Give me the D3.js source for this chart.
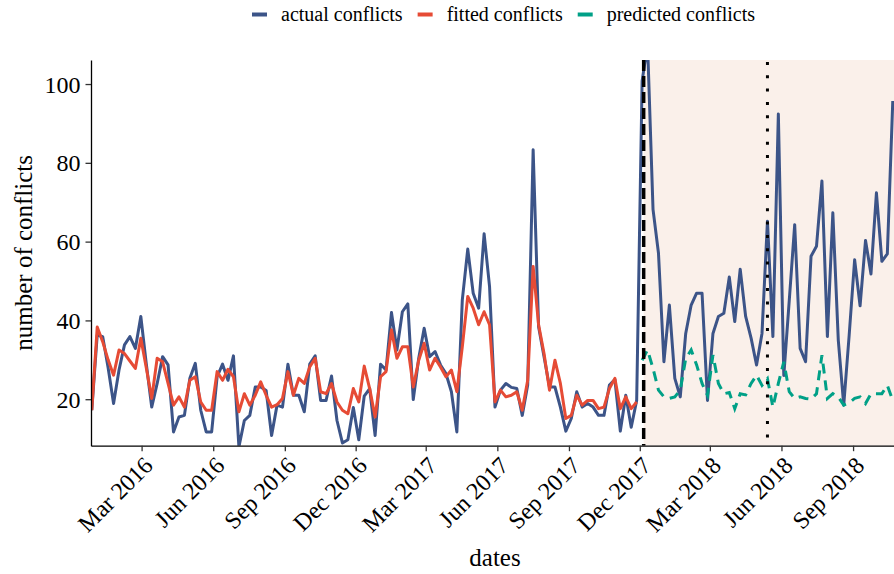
<!DOCTYPE html>
<html>
<head>
<meta charset="utf-8">
<script src="https://cdn.jsdelivr.net/npm/d3@7"></script>
<style>
  html, body { margin: 0; padding: 0; background: #ffffff; }
  svg { display: block; font-family: "Liberation Serif", "Times New Roman", serif; }
</style>
</head>
<body>
<svg id="chart" width="894" height="574"></svg>
<script>
// Weekly conflict counts, one value per week starting at firstWeek.
const firstWeek = "2015-12-28";

const actualConflicts = [
  17.2, 36.3, 35.9, 28.0, 18.9, 27.4, 33.8, 35.9, 32.9, 41.0,
  29.0, 18.0, 24.0, 30.8, 28.7, 11.7, 15.5, 15.9, 25.3, 29.1,
  17.2, 11.7, 11.7, 25.7, 28.9, 24.8, 31.0, 7.9, 14.6, 15.9,
  23.1, 23.1, 22.2, 10.8, 18.5, 18.0, 28.9, 21.0, 21.0, 16.8,
  28.9, 31.0, 19.7, 19.7, 25.9, 14.6, 8.9, 9.7, 17.9, 9.7,
  20.8, 22.7, 10.8, 28.9, 27.4, 42.0, 32.5, 42.2, 44.2, 19.9,
  30.4, 38.0, 30.8, 32.1, 28.7, 26.5, 21.9, 11.7, 45.2, 58.1,
  46.9, 43.1, 62.0, 48.6, 18.0, 22.3, 24.0, 23.0, 22.7, 15.9,
  23.6, 83.3, 38.4, 30.8, 23.1, 23.1, 18.0, 11.9, 15.1, 21.9,
  18.0, 18.9, 18.0, 15.9, 15.9, 23.6, 25.0, 11.9, 21.0, 12.9,
  19.7, 100.8, 110.0, 68.2, 57.1, 29.5, 43.9, 25.3, 20.6, 36.7,
  43.9, 46.9, 46.9, 19.7, 36.7, 41.0, 41.8, 51.0, 39.7, 53.0,
  41.0, 35.5, 28.7, 36.7, 65.2, 35.9, 92.4, 26.0, 45.0, 64.3,
  32.9, 29.5, 56.3, 58.8, 75.4, 35.9, 67.3, 35.0, 18.5, 36.3,
  55.4, 43.7, 60.3, 51.8, 72.4, 55.0, 56.9, 95.7
];

// In-sample model fit (weeks 0-100)
const fittedConflicts = [
  17.2, 38.3, 34.6, 30.0, 26.1, 32.5, 31.6, 29.7, 27.8, 35.5,
  28.0, 20.2, 30.4, 29.5, 24.0, 18.5, 20.6, 18.0, 24.8, 25.7,
  19.3, 17.2, 17.2, 27.0, 24.8, 27.6, 25.7, 16.8, 21.4, 18.5,
  21.0, 24.4, 21.0, 18.0, 18.6, 20.2, 27.0, 21.0, 25.3, 24.0,
  28.2, 30.4, 21.9, 21.4, 24.0, 19.3, 17.2, 16.3, 22.7, 19.3,
  28.4, 22.7, 15.5, 25.7, 27.0, 37.6, 30.4, 33.3, 33.3, 23.1,
  29.9, 34.2, 27.4, 30.4, 28.2, 25.7, 27.4, 21.9, 33.3, 46.1,
  43.1, 38.9, 42.2, 38.9, 19.3, 22.3, 20.6, 21.0, 21.9, 17.2,
  24.8, 53.7, 38.9, 31.6, 22.3, 29.9, 24.0, 15.1, 15.9, 21.0,
  18.5, 19.7, 19.7, 17.6, 18.0, 22.7, 25.3, 17.6, 20.6, 17.6,
  19.3
];

// Out-of-sample forecast, starting at week predictionStartWeek
const predictionStartWeek = 101;
const predictedConflicts = [
  29.9, 32.5, 27.8, 22.3, 20.6, 20.2, 20.6, 22.3, 30.3, 32.5,
  28.7, 24.0, 21.0, 31.2, 24.0, 21.4, 21.7, 17.6, 21.4, 21.1,
  24.0, 26.1, 23.5, 25.2, 18.0, 24.0, 29.5, 21.9, 20.2, 20.6,
  20.2, 20.0, 21.4, 31.2, 20.2, 21.4, 20.6, 18.5, 19.1, 20.2,
  20.6, 18.9, 21.4, 21.4, 21.4, 23.5, 19.7
];

const dateTicks = [
  "2016-03-01", "2016-06-01", "2016-09-01", "2016-12-01",
  "2017-03-01", "2017-06-01", "2017-09-01", "2017-12-01",
  "2018-03-01", "2018-06-01", "2018-09-01"
];
const countTicks = [20, 40, 60, 80, 100];

const forecastStart = "2017-12-06";
const eventDate = "2018-05-14";
const dateDomain = ["2015-12-27", "2018-10-30"];
const countDomain = [8.2, 106.1];

const seriesNames = ["actual conflicts", "fitted conflicts", "predicted conflicts"];
const seriesColors = ["#3C5488", "#E64B35", "#00A087"];

// ---------------------------------------------------------------
const parse = d3.utcParse("%Y-%m-%d");
const week0 = parse(firstWeek);
const weekDate = i => d3.utcDay.offset(week0, 7 * i);

const svg = d3.select("#chart");
const plot = { left: 91, right: 899, top: 60, bottom: 445.7 };

const x = d3.scaleUtc()
  .domain(dateDomain.map(parse))
  .range([plot.left, plot.right]);
const y = d3.scaleLinear()
  .domain(countDomain)
  .range([plot.bottom, plot.top]);

svg.append("defs").append("clipPath").attr("id", "plot-clip")
  .append("rect")
  .attr("x", plot.left).attr("y", plot.top)
  .attr("width", plot.right - plot.left)
  .attr("height", plot.bottom - plot.top);

const panel = svg.append("g").attr("clip-path", "url(#plot-clip)");

// forecast period shading
panel.append("rect")
  .attr("x", x(parse(forecastStart)))
  .attr("y", plot.top)
  .attr("width", plot.right - x(parse(forecastStart)))
  .attr("height", plot.bottom - plot.top)
  .attr("fill", "#FAF0EA");

const line = d3.line()
  .x(d => x(d.date))
  .y(d => y(d.value));

const actualData = actualConflicts.map((v, i) => ({ date: weekDate(i), value: v }));
const fittedData = fittedConflicts.map((v, i) => ({ date: weekDate(i), value: v }));
const predictedData = predictedConflicts.map((v, i) => ({ date: weekDate(predictionStartWeek + i), value: v }));

panel.append("path").datum(actualData)
  .attr("d", line).attr("fill", "none")
  .attr("stroke", seriesColors[0]).attr("stroke-width", 3)
  .attr("stroke-linejoin", "round");

panel.append("path").datum(fittedData)
  .attr("d", line).attr("fill", "none")
  .attr("stroke", seriesColors[1]).attr("stroke-width", 3)
  .attr("stroke-linejoin", "round");

panel.append("path").datum(predictedData)
  .attr("d", line).attr("fill", "none")
  .attr("stroke", seriesColors[2]).attr("stroke-width", 3)
  .attr("stroke-dasharray", "10,7");

// forecast start and event markers
panel.append("line")
  .attr("x1", x(parse(forecastStart))).attr("x2", x(parse(forecastStart)))
  .attr("y1", plot.top).attr("y2", plot.bottom)
  .attr("stroke", "#000").attr("stroke-width", 3.5)
  .attr("stroke-dasharray", "11,5");

panel.append("line")
  .attr("x1", x(parse(eventDate))).attr("x2", x(parse(eventDate)))
  .attr("y1", plot.top + 2).attr("y2", plot.bottom)
  .attr("stroke", "#000").attr("stroke-width", 3)
  .attr("stroke-dasharray", "3,10.3");

// axes
const fmt = d3.utcFormat("%b %Y");
const xAxis = svg.append("g")
  .attr("transform", `translate(0,${plot.bottom})`)
  .call(d3.axisBottom(x).tickValues(dateTicks.map(parse)).tickFormat(fmt).tickSize(5.5).tickSizeOuter(0));
xAxis.select(".domain").attr("stroke", "#000").attr("stroke-width", 1.3);
xAxis.selectAll(".tick line").attr("stroke", "#333").attr("stroke-width", 1.3);
xAxis.selectAll(".tick text")
  .attr("font-size", 24)
  .attr("font-family", "Liberation Serif, serif")
  .attr("fill", "#000")
  .attr("text-anchor", "end")
  .attr("x", 0).attr("y", 0)
  .attr("dy", "0.72em")
  .attr("transform", "translate(0,9) rotate(-45)");

const yAxis = svg.append("g")
  .attr("transform", `translate(${plot.left},0)`)
  .call(d3.axisLeft(y).tickValues(countTicks).tickSize(5.5).tickSizeOuter(0));
yAxis.select(".domain").attr("stroke", "#000").attr("stroke-width", 1.3);
yAxis.selectAll(".tick line").attr("stroke", "#333").attr("stroke-width", 1.3);
yAxis.selectAll(".tick text")
  .attr("font-size", 24)
  .attr("font-family", "Liberation Serif, serif")
  .attr("fill", "#000")
  .attr("x", -10.5)
  .attr("dy", "0.34em");

// axis titles
svg.append("text")
  .attr("x", (plot.left + plot.right) / 2)
  .attr("y", 566)
  .attr("text-anchor", "middle")
  .attr("font-size", 25)
  .attr("fill", "#000")
  .text("dates");

svg.append("text")
  .attr("transform", `translate(32,${(plot.top + plot.bottom) / 2}) rotate(-90)`)
  .attr("text-anchor", "middle")
  .attr("font-size", 25)
  .attr("fill", "#000")
  .text("number of conflicts");

// legend
const legend = svg.append("g");
let cursor = 0;
seriesNames.forEach((name, i) => {
  const g = legend.append("g").attr("transform", `translate(${cursor},0)`);
  g.append("line")
    .attr("x1", 0).attr("x2", 15)
    .attr("y1", 14.5).attr("y2", 14.5)
    .attr("stroke", seriesColors[i]).attr("stroke-width", 4);
  const t = g.append("text")
    .attr("x", 29).attr("y", 20.5)
    .attr("font-size", 20)
    .attr("fill", "#000")
    .text(name);
  cursor += 29 + t.node().getComputedTextLength() + 15;
});
const legendWidth = cursor - 15;
legend.attr("transform", `translate(${503.5 - legendWidth / 2},0)`);
</script>
</body>
</html>
